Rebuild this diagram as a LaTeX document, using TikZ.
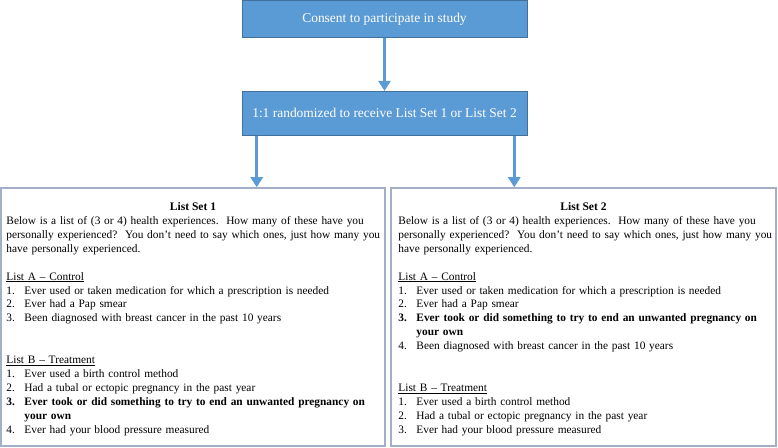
\documentclass[tikz,border=0pt]{standalone}
\usepackage{fontspec}
\setmainfont{Liberation Serif}
\usepackage{xcolor}
\usetikzlibrary{arrows.meta,positioning,calc}

\definecolor{flowblue}{HTML}{5B9BD5}
\definecolor{flowedge}{HTML}{41719C}
\definecolor{listedge}{HTML}{A3AFC6}

\newcommand{\itm}[1]{\makebox[18bp][l]{#1}}
\newcommand{\fullline}[1]{\makebox[\linewidth][s]{#1}}

\begin{document}
\begin{tikzpicture}[
  x=1bp, y=-1bp,
  >={Triangle[width=12bp,length=10bp]},
  node distance=53bp,
  flow/.style={draw=flowedge, line width=.8bp, fill=flowblue, text=white, font=\fontsize{13.5}{16}\selectfont, minimum width=285bp, inner sep=0pt},
  listbox/.style={draw=listedge, line width=1.5bp, minimum height=258bp, inner sep=0pt},
  listtitle/.style={font=\fontsize{11.6}{14}\selectfont\bfseries, inner sep=0pt},
  listtext/.style={anchor=base west, inner sep=0pt, align=left, font=\fontsize{11.4}{14}\selectfont},
  flowarrow/.style={->, draw=flowblue, fill=flowblue, line width=3.5bp}
]
\useasboundingbox (0,0) rectangle (778,448);

\node[flow, minimum height=37bp] (consent) at (384.5,19) {Consent to participate in study};
\node[flow, minimum height=44bp, below=of consent] (random) {1:1 randomized to receive List Set 1 or List Set 2};

\node[listbox, minimum width=384bp] (set1) at (193,317) {};
\node[listbox, minimum width=385bp] (set2) at (583.5,317) {};

\node[listtitle] (set1title) at ($(set1.north)+(0,19)$) {List Set 1};
\node[listtitle] (set2title) at ($(set2.north)+(0,19)$) {List Set 2};

\node[listtext, text width=360bp] (set1text) at ($(set1.north west)+(6,37)$) {%
\fullline{Below is a list of (3 or 4) health experiences.\ \ How many of these have you}\\
\fullline{personally experienced?\ \ You don't need to say which ones, just how many you}\\
have personally experienced.\\[14bp]
\underline{List A -- Control}\\
\itm{1.}Ever used or taken medication for which a prescription is needed\\
\itm{2.}Ever had a Pap smear\\
\itm{3.}Been diagnosed with breast cancer in the past 10 years\\[28bp]
\underline{List B -- Treatment}\\
\itm{1.}Ever used a birth control method\\
\itm{2.}Had a tubal or ectopic pregnancy in the past year\\
\mbox{\bfseries\itm{3.}Ever took or did something to try to end an unwanted pregnancy on}\\
\hspace*{18bp}\textbf{your own}\\
\itm{4.}Ever had your blood pressure measured};

\node[listtext, text width=367bp] (set2text) at ($(set2.north west)+(8,37)$) {%
\fullline{Below is a list of (3 or 4) health experiences.\ \ How many of these have you}\\
\fullline{personally experienced?\ \ You don't need to say which ones, just how many you}\\
have personally experienced.\\[14bp]
\underline{List A -- Control}\\
\itm{1.}Ever used or taken medication for which a prescription is needed\\
\itm{2.}Ever had a Pap smear\\
\mbox{\bfseries\itm{3.}Ever took or did something to try to end an unwanted pregnancy on}\\
\hspace*{18bp}\textbf{your own}\\
\itm{4.}Been diagnosed with breast cancer in the past 10 years\\[28bp]
\underline{List B -- Treatment}\\
\itm{1.}Ever used a birth control method\\
\itm{2.}Had a tubal or ectopic pregnancy in the past year\\
\itm{3.}Ever had your blood pressure measured};

\coordinate (fork1) at ($(random.south west)!.053!(random.south east)$);
\coordinate (fork2) at ($(random.south west)!.954!(random.south east)$);

\draw[flowarrow] (consent) -- (random);
\draw[flowarrow] (fork1) -- (fork1 |- set1.north);
\draw[flowarrow] (fork2) -- (fork2 |- set2.north);
\end{tikzpicture}
\end{document}
